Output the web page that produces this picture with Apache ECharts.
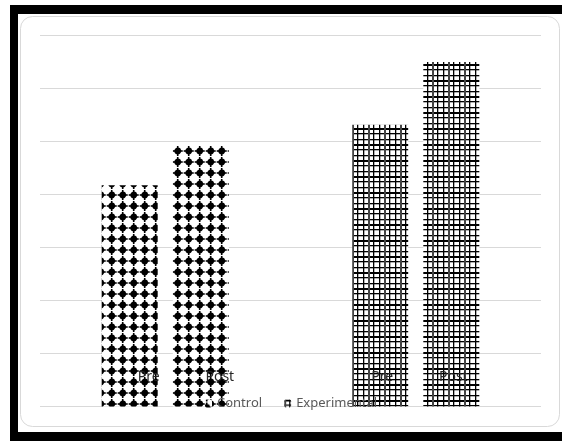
<!DOCTYPE html>
<html>
<head>
<meta charset="utf-8">
<script src="https://cdn.jsdelivr.net/npm/echarts@6/dist/echarts.min.js"></script>
<style>
  html, body { margin: 0; padding: 0; background: #fff; }
  #chart { width: 562px; height: 441px; }
</style>
</head>
<body>
<div id="chart"></div>
<script>
// groups on the x axis, one bar per phase in each group
const categories = ['Control', 'Experimental']
const phases = ['Pre', 'Post']
const preValues = [41.7, 53.1]
const postValues = [49.2, 64.9]

// dotted fill for the control bars
const makeDotPattern = () => {
  const c = document.createElement('canvas')
  c.width = 11
  c.height = 11
  const ctx = c.getContext('2d')
  ctx.fillStyle = '#fff'
  ctx.fillRect(0, 0, 11, 11)
  ctx.fillStyle = '#000'
  const cx = 1.7, cy = 8
  for (const dx of [-11, 0, 11]) {
    for (const dy of [-11, 0, 11]) {
      const x = cx + dx, y = cy + dy
      ctx.beginPath()
      ctx.arc(x, y, 3.4, 0, Math.PI * 2)
      ctx.fill()
      ctx.fillRect(x - 5, y - 0.8, 10, 1.6)
      ctx.fillRect(x - 0.8, y - 5, 1.6, 10)
    }
  }
  return c
}

// square mesh fill for the experimental bars
const makeGridPattern = () => {
  const c = document.createElement('canvas')
  c.width = 16
  c.height = 16
  const ctx = c.getContext('2d')
  ctx.fillStyle = '#fff'
  ctx.fillRect(0, 0, 16, 16)
  ctx.fillStyle = '#000'
  ctx.fillRect(0, 0, 16, 2)
  ctx.fillRect(0, 5, 16, 1.3)
  ctx.fillRect(0, 11, 16, 1.3)
  ctx.fillStyle = '#444'
  ctx.fillRect(0, 0, 2, 16)
  ctx.fillStyle = '#000'
  ctx.fillRect(5, 0, 1.3, 16)
  ctx.fillRect(11, 0, 1.3, 16)
  return c
}

const fills = [
  { image: makeDotPattern(), repeat: 'repeat' },
  { image: makeGridPattern(), repeat: 'repeat' }
]
const labelShift = [19, 2]

const chart = echarts.init(document.getElementById('chart'), null, { renderer: 'canvas' })

const series = []
const phaseValues = [preValues, postValues]
phases.forEach((phase, p) => {
  categories.forEach((cat, g) => {
    series.push({
      name: cat,
      type: 'bar',
      stack: phase,
      barWidth: 56,
      barGap: '27%',
      data: categories.map((_, i) => (i === g ? phaseValues[p][i] : '-')),
      itemStyle: { color: fills[g] },
      label: {
        show: true,
        position: 'insideBottom',
        distance: 22,
        offset: [labelShift[g], 0],
        formatter: phase,
        color: '#262626',
        fontSize: 14,
        fontFamily: 'Noto Sans'
      }
    })
  })
})

const option = {
  backgroundColor: '#fff',
  animation: false,
  graphic: [
    { type: 'rect', z: -10, shape: { x: 10, y: 5, width: 552, height: 9 }, style: { fill: '#000' } },
    { type: 'rect', z: -10, shape: { x: 10, y: 5, width: 8, height: 436 }, style: { fill: '#000' } },
    { type: 'rect', z: -10, shape: { x: 10, y: 432, width: 552, height: 9 }, style: { fill: '#000' } },
    {
      type: 'rect', z: -9,
      shape: { x: 20.5, y: 16.5, width: 539, height: 410, r: 12 },
      style: { fill: '#fff', stroke: '#d9d9d9', lineWidth: 1 }
    }
  ],
  grid: {
    top: 35,
    left: 40,
    right: 21,
    bottom: 34.5
  },
  legend: {
    data: categories,
    left: 200,
    top: 392,
    itemWidth: 7,
    itemHeight: 8,
    itemGap: 22,
    textStyle: { color: '#595959', fontSize: 13, fontFamily: 'Noto Sans' }
  },
  xAxis: {
    type: 'category',
    data: categories,
    axisLine: { show: false },
    axisTick: { show: false },
    axisLabel: { show: false }
  },
  yAxis: {
    type: 'value',
    min: 0,
    max: 70,
    interval: 10,
    axisLabel: { show: false },
    axisLine: { show: false },
    axisTick: { show: false },
    splitLine: { lineStyle: { color: '#d9d9d9', width: 1 } }
  },
  series
}

chart.setOption(option)
</script>
</body>
</html>
